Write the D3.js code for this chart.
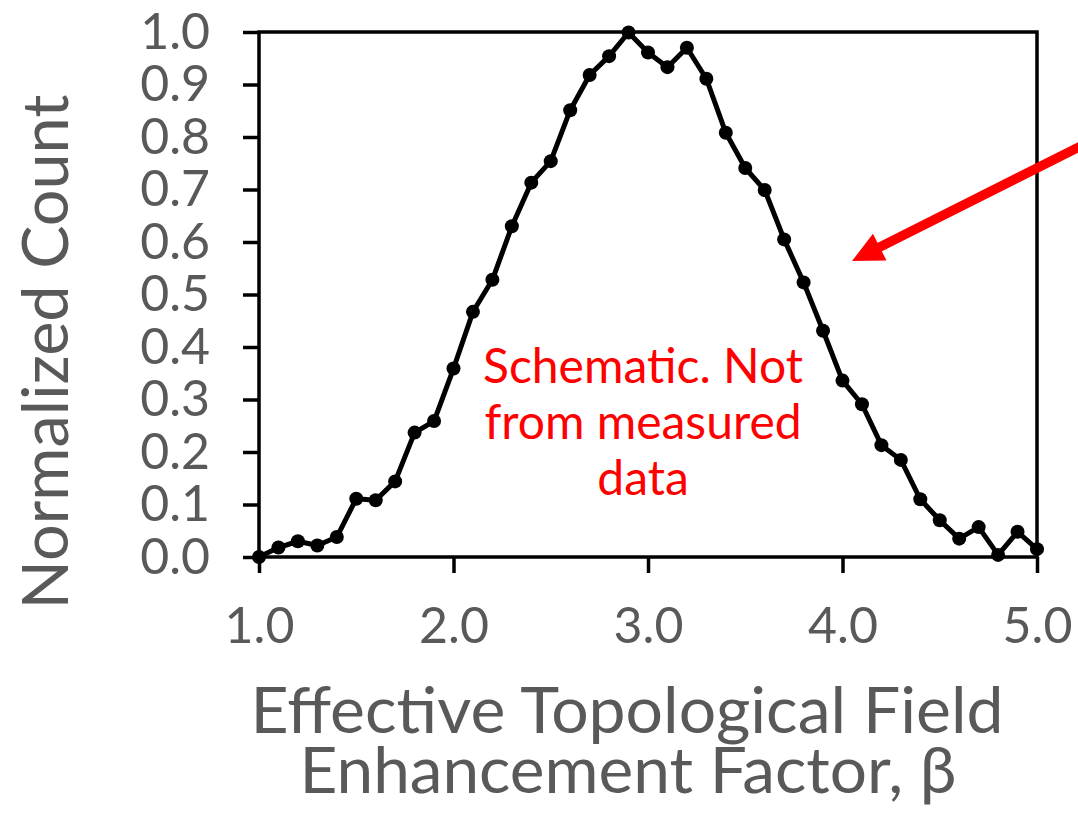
<!DOCTYPE html>
<html>
<head>
<meta charset="utf-8">
<script src="https://cdn.jsdelivr.net/npm/d3@7"></script>
<style>
  html, body { margin: 0; padding: 0; background: #fff; }
  svg { display: block; }
</style>
</head>
<body>
<svg id="chart" width="1078" height="814"></svg>
<script>
// ---- data ----
const betaValues = [1.0, 1.1, 1.2, 1.3, 1.4, 1.5, 1.6, 1.7, 1.8, 1.9,
                    2.0, 2.1, 2.2, 2.3, 2.4, 2.5, 2.6, 2.7, 2.8, 2.9,
                    3.0, 3.1, 3.2, 3.3, 3.4, 3.5, 3.6, 3.7, 3.8, 3.9,
                    4.0, 4.1, 4.2, 4.3, 4.4, 4.5, 4.6, 4.7, 4.8, 4.9, 5.0];
const countValues = [0.000, 0.018, 0.030, 0.022, 0.038, 0.111, 0.108, 0.144, 0.237, 0.259,
                     0.359, 0.467, 0.528, 0.630, 0.713, 0.754, 0.851, 0.918, 0.954, 0.999,
                     0.961, 0.933, 0.970, 0.911, 0.808, 0.741, 0.699, 0.605, 0.523, 0.431,
                     0.336, 0.291, 0.213, 0.185, 0.110, 0.070, 0.035, 0.057, 0.004, 0.048, 0.015];
const xTickValues = [1.0, 2.0, 3.0, 4.0, 5.0];
const yTickValues = [0.0, 0.1, 0.2, 0.3, 0.4, 0.5, 0.6, 0.7, 0.8, 0.9, 1.0];
const xTitleLines = ["Effective Topological Field", "Enhancement Factor, \u03B2"];
const yTitle = "Normalized Count";
const noteLines = ["Schematic. Not", "from measured", "data"];

(function () {
// ---- layout ----
const svg = d3.select("#chart");
const pLeft = 259, pRight = 1037, pTop = 32, pBottom = 557;
const x = d3.scaleLinear().domain([1, 5]).range([pLeft, pRight]);
const y = d3.scaleLinear().domain([0, 1]).range([pBottom, pTop]);
const font = "Lato, 'Open Sans', sans-serif";
const grey = "#595959";

// plot border
svg.append("rect")
  .attr("x", pLeft).attr("y", pTop)
  .attr("width", pRight - pLeft).attr("height", pBottom - pTop)
  .attr("fill", "none").attr("stroke", "#000").attr("stroke-width", 3.5);

// y axis
const yAxis = svg.append("g").attr("transform", `translate(${pLeft},0)`)
  .call(d3.axisLeft(y).tickValues(yTickValues).tickSize(16).tickSizeOuter(0)
        .tickPadding(33).tickFormat(d3.format(".1f")));
yAxis.select(".domain").remove();
yAxis.selectAll("line").attr("stroke", "#000").attr("stroke-width", 3.5);
yAxis.selectAll("text").attr("fill", grey).style("font-family", font).style("font-size", "50px");

// x axis
const xAxis = svg.append("g").attr("transform", `translate(0,${pBottom})`)
  .call(d3.axisBottom(x).tickValues(xTickValues).tickSize(16).tickSizeOuter(0)
        .tickPadding(34).tickFormat(d3.format(".1f")));
xAxis.select(".domain").remove();
xAxis.selectAll("line").attr("stroke", "#000").attr("stroke-width", 3.5);
xAxis.selectAll("text").attr("fill", grey).style("font-family", font).style("font-size", "50px");

// data line
const pts = betaValues.map((b, i) => [b, countValues[i]]);
svg.append("path")
  .datum(pts)
  .attr("fill", "none").attr("stroke", "#000").attr("stroke-width", 5)
  .attr("stroke-linejoin", "round")
  .attr("d", d3.line().x(d => x(d[0])).y(d => y(d[1])));
svg.append("g").selectAll("circle").data(pts).join("circle")
  .attr("cx", d => x(d[0])).attr("cy", d => y(d[1])).attr("r", 7)
  .attr("fill", "#000");

// axis titles
const xtWidths = [753, 657];
xTitleLines.forEach((t, i) => {
  svg.append("text").attr("text-anchor", "middle")
    .attr("x", 627 + i).attr("y", 733 + i * 60)
    .attr("textLength", xtWidths[i]).attr("lengthAdjust", "spacingAndGlyphs")
    .attr("fill", grey).style("font-family", font).style("font-size", "63px")
    .text(t);
});

svg.append("text")
  .attr("transform", "translate(68,352) rotate(-90)")
  .attr("text-anchor", "middle")
  .attr("textLength", 515).attr("lengthAdjust", "spacingAndGlyphs")
  .attr("fill", grey).style("font-family", font).style("font-size", "63px")
  .text(yTitle);

// red note
noteLines.forEach((t, i) => {
  svg.append("text").attr("text-anchor", "middle")
    .attr("x", 643).attr("y", 383 + i * 56)
    .attr("fill", "#ff0000").style("font-family", font).style("font-size", "48px")
    .text(t);
});

// red arrow
const tail = [1085, 144], tip = [852, 261];
const dx = tip[0] - tail[0], dy = tip[1] - tail[1];
const len = Math.hypot(dx, dy), ux = dx / len, uy = dy / len;
const headLen = 31, headHalf = 15;
const base = [tip[0] - ux * headLen, tip[1] - uy * headLen];
svg.append("line")
  .attr("x1", tail[0]).attr("y1", tail[1])
  .attr("x2", base[0] + ux * 2).attr("y2", base[1] + uy * 2)
  .attr("stroke", "#ff0000").attr("stroke-width", 9.5);
svg.append("path")
  .attr("d", d3.line()([tip,
    [base[0] - uy * headHalf, base[1] + ux * headHalf],
    [base[0] + uy * headHalf, base[1] - ux * headHalf]]) + "Z")
  .attr("fill", "#ff0000");
})();
</script>
</body>
</html>
